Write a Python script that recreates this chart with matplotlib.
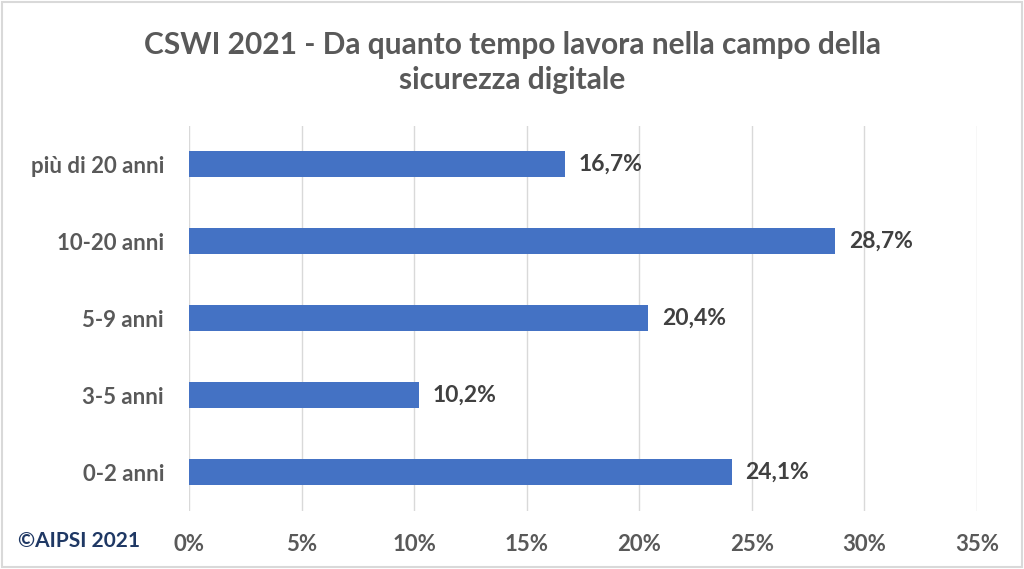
import matplotlib.pyplot as plt
from matplotlib.patches import Rectangle

categories = ["0-2 anni", "3-5 anni", "5-9 anni", "10-20 anni", "più di 20 anni"]
values = [24.1, 10.2, 20.4, 28.7, 16.7]
xticks = [0, 5, 10, 15, 20, 25, 30, 35]

plt.rcParams['font.family'] = ['Lato', 'DejaVu Sans']

fig = plt.figure(figsize=(10.24, 5.69), dpi=100)
ax = fig.add_axes([0.1846, 0.1028, 0.7695, 0.6766])

bars = ax.barh(categories, values, height=0.34, color="#4472C4", zorder=3)
for b, v in zip(bars, values):
    ax.text(b.get_width() + 0.6, b.get_y() + b.get_height() / 2,
            f"{v:.1f}%".replace(".", ","), va="center", ha="left",
            fontsize=16.5, fontweight="bold", color="#404040")

ax.set_xlim(0, 35)
ax.set_ylim(-0.5, 4.5)
ax.set_xticks(xticks)
ax.set_xticklabels([f"{t}%" for t in xticks])
ax.grid(axis="x", color="#D9D9D9", linewidth=1, zorder=0)
for s in ax.spines.values():
    s.set_visible(False)
ax.tick_params(axis="both", length=0, labelsize=16, labelcolor="#595959")
ax.tick_params(axis="x", pad=17)
ax.tick_params(axis="y", pad=18)
for lbl in ax.get_xticklabels() + ax.get_yticklabels():
    lbl.set_fontweight("bold")

fig.text(0.5, 0.89, "CSWI 2021 - Da quanto tempo lavora nella campo della\nsicurezza digitale",
         ha="center", va="center", fontsize=21.5, fontweight="bold", color="#595959",
         linespacing=1.3)
fig.text(0.018, 0.049, "©AIPSI 2021", ha="left", va="center", fontsize=15,
         fontweight="bold", color="#1F3864")

fig.patches.append(Rectangle((0.002, 0.003), 0.996, 0.994, transform=fig.transFigure,
                             fill=False, edgecolor="#D9D9D9", linewidth=1.5))

fig.savefig("out.png", dpi=100, facecolor="white")
